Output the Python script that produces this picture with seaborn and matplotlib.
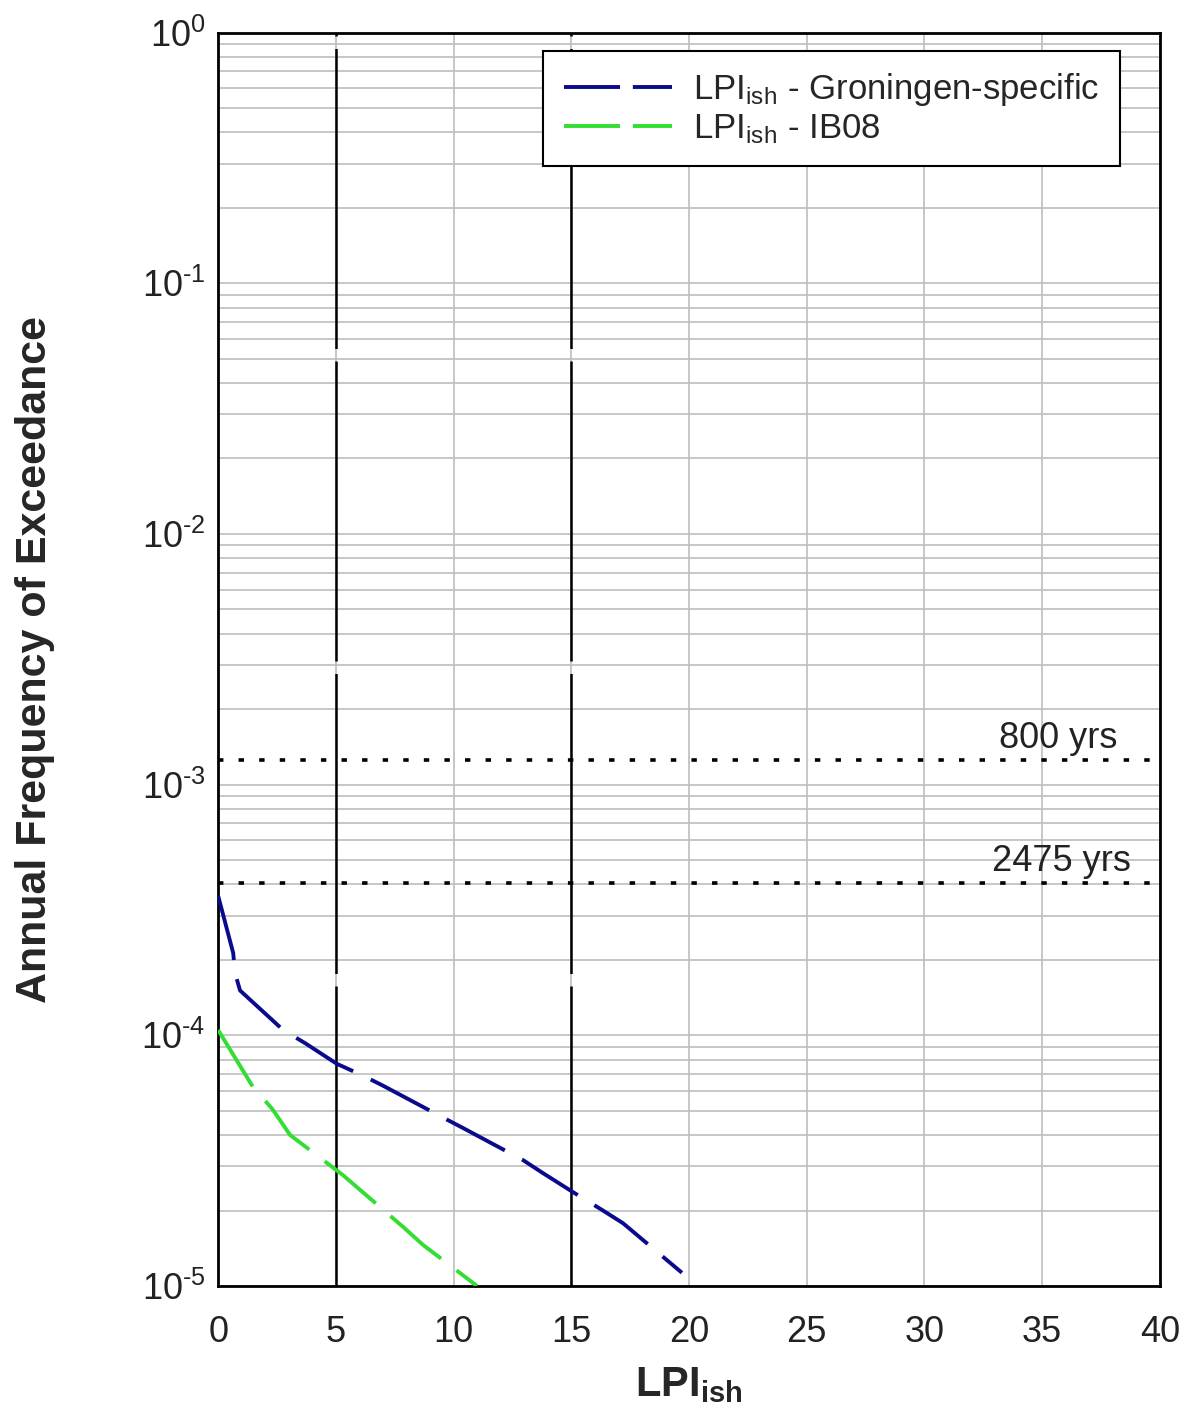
import numpy as np
import pandas as pd
import seaborn as sns
import matplotlib.pyplot as plt
from matplotlib.ticker import LogLocator, MultipleLocator, NullFormatter, FuncFormatter

# Groningen-specific curve (LPI_ish vs annual frequency of exceedance)
lpi_gron = [0.0, 0.64, 0.72, 0.93, 2.76, 3.7, 5.04, 6.16, 7.0, 9.55, 10.4, 12.95, 13.8, 15.07, 16.35, 17.2, 19.7]
afe_gron = [3.6e-4, 2.13e-4, 1.77e-4, 1.51e-4, 1.05e-4, 9.3e-5, 7.7e-5, 6.9e-5, 6.3e-5, 4.7e-5, 4.27e-5, 3.18e-5, 2.82e-5, 2.37e-5, 2.0e-5, 1.78e-5, 1.13e-5]

# IB08 curve
lpi_ib08 = [0.0, 1.49, 2.29, 3.06, 4.46, 5.3, 7.86, 8.7, 11.0]
afe_ib08 = [1.05e-4, 6.2e-5, 5.1e-5, 4.0e-5, 3.18e-5, 2.77e-5, 1.72e-5, 1.46e-5, 1.0e-5]

return_periods = [800, 2475]
rp_label_x = [35.67, 35.84]
ref_lpi = [5, 15]

sns.set_theme(style="white")
plt.rcParams['font.family'] = ['Liberation Sans', 'DejaVu Sans']
plt.rcParams['mathtext.fontset'] = 'custom'
plt.rcParams['mathtext.rm'] = 'Liberation Sans'
plt.rcParams['mathtext.it'] = 'Liberation Sans'
plt.rcParams['mathtext.bf'] = 'Liberation Sans:bold'
plt.rcParams['axes.unicode_minus'] = False

fig = plt.figure(figsize=(11.92, 14.14), dpi=100)
ax = fig.add_axes([0.183, 0.0905, 0.79, 0.8865])

df_g = pd.DataFrame({'LPI': lpi_gron, 'AFE': afe_gron})
df_i = pd.DataFrame({'LPI': lpi_ib08, 'AFE': afe_ib08})

sns.lineplot(data=df_g, x='LPI', y='AFE', ax=ax, color='#0a0a8c', lw=2.8,
             label=r'LPI$_{\mathregular{ish}}$ - Groningen-specific')
sns.lineplot(data=df_i, x='LPI', y='AFE', ax=ax, color='#33dd33', lw=2.8,
             label=r'LPI$_{\mathregular{ish}}$ - IB08')
for ln in ax.lines[:2]:
    ln.set_dashes((17, 5))
    ln.set_zorder(5)

ax.set_yscale('log')
ax.set_xlim(0, 40)
ax.set_ylim(1e-5, 1)


def decade_label(v, pos):
    e = int(round(np.log10(v)))
    if e < 0:
        return r'$\mathregular{10^{\text{-}%d}}$' % (-e)
    return r'$\mathregular{10^{%d}}$' % e


ax.xaxis.set_major_locator(MultipleLocator(5))
ax.yaxis.set_major_locator(LogLocator(base=10, numticks=10))
ax.yaxis.set_major_formatter(FuncFormatter(decade_label))
ax.yaxis.set_minor_locator(LogLocator(base=10, subs=np.arange(2, 10), numticks=20))
ax.yaxis.set_minor_formatter(NullFormatter())

ax.grid(True, which='major', axis='x', color='#bdbdbd', lw=1.2)
ax.grid(True, which='both', axis='y', color='#bdbdbd', lw=1.2)
ax.set_axisbelow(True)

for x in ref_lpi:
    ax.axvline(x, color='black', lw=1.8, dashes=(120, 5), zorder=3)

for rp, tx in zip(return_periods, rp_label_x):
    ax.axhline(1.0 / rp, color='black', lw=2.6, dashes=(1.5, 4.2), zorder=4)
    ax.text(tx, 1.0 / rp * 1.04, f'{rp} yrs', ha='center', va='bottom', fontsize=26, color='#222222')

for s in ax.spines.values():
    s.set_color('black')
    s.set_linewidth(2)

ax.tick_params(axis='both', which='both', length=0, labelsize=26, colors='#222222')
ax.tick_params(axis='x', pad=21)
ax.tick_params(axis='y', pad=9)

ax.set_xlabel(r'LPI$_{\mathbf{ish}}$', fontsize=30, fontweight='bold', labelpad=11)
ax.set_ylabel('Annual Frequency of Exceedance', fontsize=31, fontweight='bold', labelpad=62)

leg = ax.legend(loc='upper right', bbox_to_anchor=(0.9575, 0.9856), fontsize=25, frameon=True,
                fancybox=False, edgecolor='black', framealpha=1, handlelength=3.1,
                borderpad=0.6, labelspacing=0.1, handletextpad=0.6, borderaxespad=0)
leg.get_frame().set_linewidth(1.5)
for h in leg.get_lines():
    h.set_dashes((14.4, 3.3))

fig.savefig('out.png', dpi=100)
